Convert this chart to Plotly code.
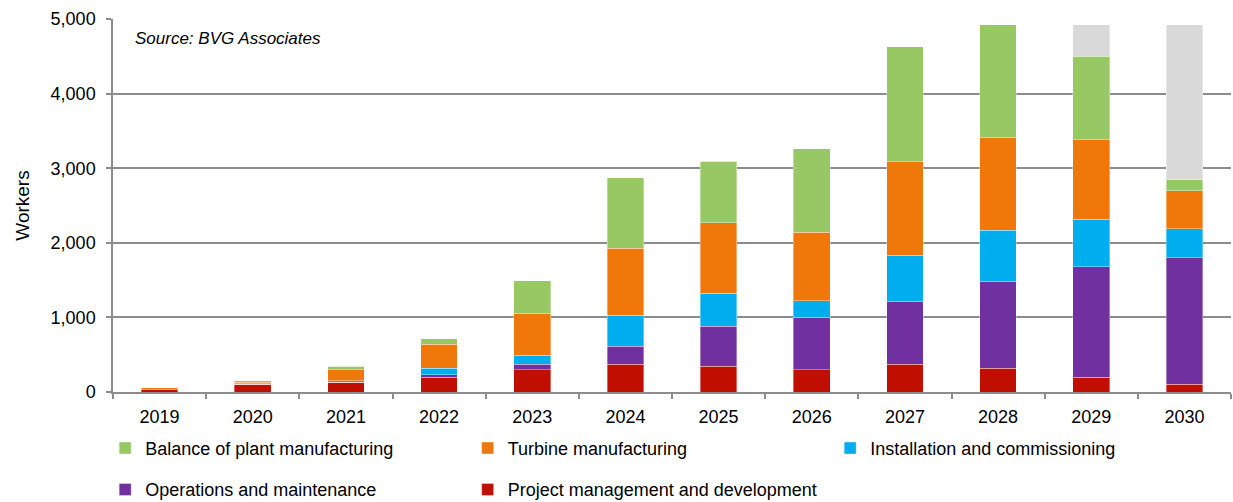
import plotly.graph_objects as go

# Offshore wind workforce by activity, 2019-2030
years = ["2019", "2020", "2021", "2022", "2023", "2024",
         "2025", "2026", "2027", "2028", "2029", "2030"]

project_mgmt = [30, 105, 129, 201, 299, 375, 348, 299, 370, 321, 201, 107]
operations = [0, 0, 5, 27, 76, 241, 536, 706, 849, 1166, 1481, 1696]
installation = [0, 5, 17, 93, 115, 415, 442, 218, 611, 683, 635, 388]
turbine = [25, 18, 148, 317, 568, 893, 942, 920, 1259, 1245, 1066, 509]
balance_of_plant = [3, 25, 49, 76, 433, 951, 826, 1116, 1536, 1505, 1121, 143]
unallocated = [0, 0, 0, 0, 0, 0, 0, 0, 0, 0, 416, 2077]

series = [
    ("Project management and development", project_mgmt, "#C00F00", "legend2"),
    ("Operations and maintenance", operations, "#7030A0", "legend2"),
    ("Installation and commissioning", installation, "#00ADEF", "legend"),
    ("Turbine manufacturing", turbine, "#F0780B", "legend"),
    ("Balance of plant manufacturing", balance_of_plant, "#98C864", "legend"),
]

FONT = "Liberation Sans, Arial, sans-serif"
GRID = "#8C8C8C"

fig = go.Figure()
for name, values, color, leg in series:
    fig.add_trace(go.Bar(
        x=years, y=values, name=name, legend=leg,
        marker=dict(color=color, line=dict(color="rgba(255,255,255,0.6)", width=0.6)),
    ))
fig.add_trace(go.Bar(
    x=years, y=unallocated, name="Unallocated", showlegend=False,
    marker=dict(color="#D9D9D9", line=dict(color="rgba(255,255,255,0.6)", width=0.6)),
))

legend_common = dict(
    orientation="h", xanchor="left", yanchor="middle",
    traceorder="reversed", entrywidth=317.5, entrywidthmode="pixels",
    font=dict(family=FONT, size=18, color="#000000"),
    bgcolor="rgba(0,0,0,0)", borderwidth=0,
    itemclick=False, itemdoubleclick=False,
)

fig.update_layout(
    width=1233, height=502,
    margin=dict(l=113, r=2, t=19, b=110, autoexpand=False),
    barmode="stack", bargap=0.605,
    plot_bgcolor="#FFFFFF", paper_bgcolor="#FFFFFF",
    font=dict(family=FONT, size=18, color="#000000"),
    legend=dict(x=-0.007, y=-0.151, **legend_common),
    legend2=dict(x=-0.007, y=-0.262, **legend_common),
    xaxis=dict(
        type="category", tickson="boundaries",
        ticks="outside", ticklen=5, tickcolor=GRID, tickwidth=1.5,
        showline=True, linecolor=GRID, linewidth=1.5,
        showgrid=False, ticklabelstandoff=8,
        tickfont=dict(family=FONT, size=18, color="#000000"),
    ),
    yaxis=dict(
        range=[0, 5000], dtick=1000, tickformat=",",
        ticks="outside", ticklen=5, tickcolor=GRID, tickwidth=1.5,
        showline=True, linecolor=GRID, linewidth=1.5,
        showgrid=True, gridcolor=GRID, gridwidth=1.5,
        zeroline=False, ticklabelstandoff=7,
        tickfont=dict(family=FONT, size=18, color="#000000"),
        title=dict(text="Workers", standoff=16,
                   font=dict(family=FONT, size=19, color="#000000")),
    ),
    annotations=[dict(
        text="<i>Source: BVG Associates</i>", xref="paper", yref="paper",
        x=0.018, y=0.949, xanchor="left", yanchor="middle", showarrow=False,
        font=dict(family=FONT, size=17, color="#000000"),
    )],
)

fig.write_html("out.html")
